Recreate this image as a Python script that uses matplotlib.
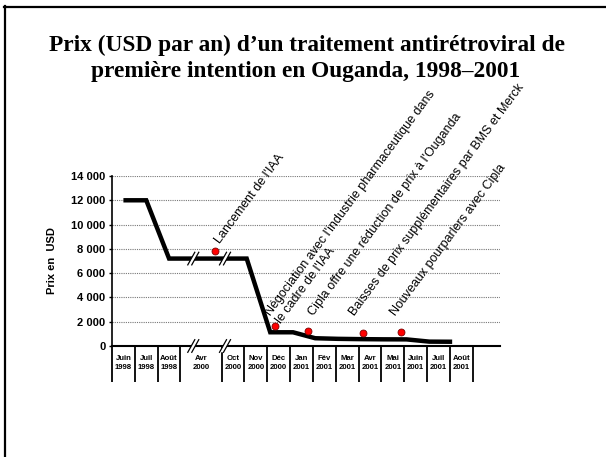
import matplotlib
matplotlib.use("Agg")
import matplotlib.pyplot as plt
import matplotlib.transforms as mtransforms
from matplotlib.patches import Polygon

# ---------------- data ----------------
title_lines = ["Prix (USD par an) d\u2019un traitement antirétroviral de",
               "première intention en Ouganda, 1998\u20132001"]
ylabel = "Prix en  USD"

categories = ["Juin\n1998", "Juil\n1998", "Août\n1998", "Avr\n2000", "Oct\n2000",
              "Nov\n2000", "Déc\n2000", "Jan\n2001", "Fév\n2001", "Mar\n2001",
              "Avr\n2001", "Mai\n2001", "Juin\n2001", "Juil\n2001", "Août\n2001"]
# category boundaries on the month axis (Avr 2000 slot is wider: contains the break)
cat_edges = [0, 1, 2, 3, 4.8, 5.8, 6.8, 7.8, 8.8, 9.8, 10.8, 11.8, 12.8, 13.8, 14.8, 15.8]

price_x = [0.5, 1.5, 2.5, 5.9, 6.93, 7.93, 8.9, 9.9, 10.9, 11.9, 12.9, 13.9, 14.9]
price_usd = [12000, 12000, 7200, 7200, 1130, 1130, 640, 590, 565, 550, 545, 360, 350]

event_x = [4.51, 7.14, 8.6, 11.0, 12.65]
event_y = [7820, 1670, 1210, 1070, 1130]
event_labels = ["Lancement de l'IAA",
                "Négociation avec l'industrie pharmaceutique dans",
                "Cipla offre une réduction de prix à l'Ouganda",
                "Baisses de prix supplémentaires par BMS et Merck",
                "Nouveaux pourparlers avec Cipla"]
extra_label = "le cadre de l'IAA"

break_x = [3.56, 4.95]

yticks = [0, 2000, 4000, 6000, 8000, 10000, 12000, 14000]

# ---------------- figure ----------------
W, H = 606, 457
fig = plt.figure(figsize=(W / 100, H / 100), dpi=100)
fig.patch.set_facecolor("white")

sans = "Liberation Sans"
serif = "Liberation Serif"

# slide frame (left and top edges)
fig.add_artist(plt.Line2D([5 / W, 5 / W], [0, 1 - 6 / H], transform=fig.transFigure,
                          color="black", lw=1.6))
fig.add_artist(plt.Line2D([4 / W, 1], [1 - 7 / H, 1 - 7 / H], transform=fig.transFigure,
                          color="black", lw=1.6))

# title
fig.text(307 / W, 1 - 50.5 / H, title_lines[0], ha="center", va="baseline",
         family=serif, weight="bold", fontsize=16.8)
fig.text(306 / W, 1 - 77.5 / H, title_lines[1], ha="center", va="baseline",
         family=serif, weight="bold", fontsize=16.8)

ax_left, ax_right, ax_top, ax_bottom = 112, 500, 176, 346
ax = fig.add_axes([ax_left / W, 1 - ax_bottom / H, (ax_right - ax_left) / W,
                   (ax_bottom - ax_top) / H])
slot = 22.83
ax.set_xlim(0, (ax_right - ax_left) / slot)
ax.set_ylim(0, 14000)

for s in ["top", "right"]:
    ax.spines[s].set_visible(False)
ax.spines["left"].set_linewidth(1.2)
ax.spines["bottom"].set_linewidth(1.5)

ax.set_yticks(yticks)
ax.set_yticklabels([f"{v:,}".replace(",", " ") for v in yticks],
                   family=sans, weight="bold", fontsize=8)
ax.tick_params(axis="y", direction="out", length=2.4, width=1, pad=2.4)
ax.set_xticks([])
ax.yaxis.grid(True, linestyle=(0, (1, 1)), color="#777777", linewidth=0.8)
ax.set_axisbelow(True)

fig.text(52.5 / W, 1 - 261 / H, ylabel, rotation=90, ha="center", va="center",
         family=sans, weight="bold", fontsize=8)

# price line
ax.plot(price_x, price_usd, color="black", lw=3.2, solid_capstyle="butt",
        solid_joinstyle="miter", zorder=3, clip_on=False)

# category table below axis
tb = mtransforms.blended_transform_factory(ax.transData, ax.transAxes)
tab_bottom = -(381.7 - ax_bottom) / (ax_bottom - ax_top)
for e in cat_edges:
    ax.plot([e, e], [0, tab_bottom], transform=tb, color="black", lw=1.3,
            clip_on=False, solid_capstyle="butt")
for i, lab in enumerate(categories):
    cx = (cat_edges[i] + cat_edges[i + 1]) / 2
    ax.text(cx, -(363 - ax_bottom) / (ax_bottom - ax_top), lab, transform=tb,
            ha="center", va="center", family=sans, weight="bold", fontsize=5.6,
            linespacing=1.25)

# break marks "//" on the line and on the axis
def break_mark(x, y, ytrans):
    off = fig.dpi_scale_trans + mtransforms.ScaledTranslation(x, y, ytrans)
    dx, dy, g = 0.035, 0.063, 0.02
    poly = Polygon([(-g - dx, -dy), (g - dx, -dy), (g + dx, dy), (-g + dx, dy)],
                   closed=True, transform=off, facecolor="white", edgecolor="none",
                   zorder=5, clip_on=False)
    ax.add_patch(poly)
    for sgn in (-1, 1):
        ax.add_line(plt.Line2D([sgn * g - dx, sgn * g + dx], [-dy, dy], transform=off,
                               color="black", lw=0.9, zorder=6, clip_on=False))

for bx in break_x:
    break_mark(bx, 7200, ax.transData)
    break_mark(bx, 0, tb)

# events
ax.plot(event_x, event_y, linestyle="none", marker="o", ms=5, mfc="#FF0000",
        mec="#7a0000", mew=0.6, zorder=7, clip_on=False)

angle = 53.5
offsets = [(5, 7), (-4.3, 9.3), (5.7, 14.6), (-8.3, 17), (-5.7, 16.3)]
for (x, y), lab, o in zip(zip(event_x, event_y), event_labels, offsets):
    ax.annotate(lab, (x, y), xytext=o, textcoords="offset pixels", rotation=angle,
                rotation_mode="anchor", ha="left", va="baseline", family=sans,
                fontsize=9, annotation_clip=False)
ax.annotate(extra_label, (event_x[1], event_y[1]), xytext=(6.4, 2),
            textcoords="offset pixels", rotation=angle, rotation_mode="anchor",
            ha="left", va="baseline", family=sans, fontsize=9, annotation_clip=False)

fig.savefig("out.png", dpi=100)
